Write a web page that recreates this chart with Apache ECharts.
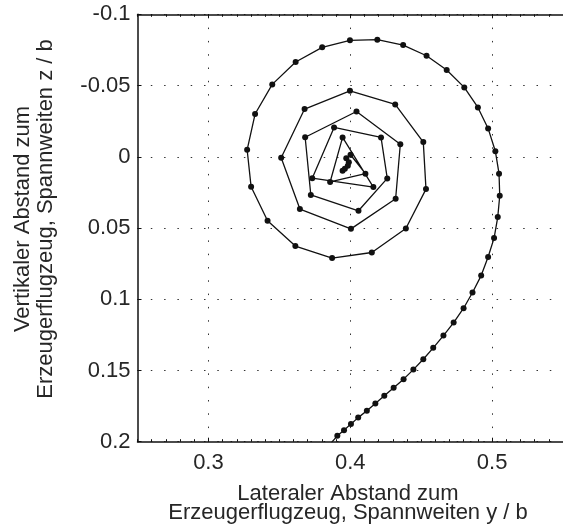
<!DOCTYPE html>
<html>
<head>
<meta charset="utf-8">
<script src="https://cdn.jsdelivr.net/npm/echarts@6/dist/echarts.min.js"></script>
<style>
  html, body { margin: 0; padding: 0; background: #fff; }
  #chart { width: 563px; height: 531px; }
</style>
</head>
<body>
<div id="chart"></div>
<script>
// Wake vortex core track: lateral (y/b) and vertical (z/b) distance to the generating aircraft
const lateral = [0.3867, 0.3909, 0.3956, 0.4005, 0.4056, 0.4117, 0.4177, 0.4240, 0.4306, 0.4376,
  0.4445, 0.4515, 0.4585, 0.4657, 0.4729, 0.4799, 0.4862, 0.4923, 0.4972, 0.5014,
  0.5040, 0.5054, 0.5049, 0.5023, 0.4972, 0.4900, 0.4804, 0.4680, 0.4538, 0.4373,
  0.4191, 0.3998, 0.3802, 0.3615, 0.3450, 0.3329, 0.3273, 0.3301, 0.3417, 0.3613,
  0.3872, 0.4152, 0.4392, 0.4534, 0.4515, 0.4317, 0.3998, 0.3678, 0.3513, 0.3645,
  0.4005, 0.4320, 0.4353, 0.4044, 0.3682, 0.3722, 0.4058, 0.4261, 0.4217, 0.3886,
  0.3732, 0.4163, 0.3946, 0.3858, 0.4107, 0.4002, 0.3972, 0.3990, 0.3983, 0.3962,
  0.3946];
const vertical = [0.2007, 0.1959, 0.1919, 0.1875, 0.1831, 0.1782, 0.1732, 0.1678, 0.1622, 0.1561,
  0.1494, 0.1421, 0.1341, 0.1255, 0.1164, 0.1063, 0.0953, 0.0834, 0.0704, 0.0571,
  0.0423, 0.0274, 0.0119, -0.0039, -0.0199, -0.0346, -0.0487, -0.0609, -0.0709, -0.0784,
  -0.0822, -0.0817, -0.0768, -0.0665, -0.0508, -0.0300, -0.0049, 0.0211, 0.0449, 0.0627,
  0.0711, 0.0672, 0.0504, 0.0227, -0.0103, -0.0367, -0.0463, -0.0335, 0.0007, 0.0367,
  0.0506, 0.0295, -0.0088, -0.0318, -0.0137, 0.0268, 0.0379, 0.0152, -0.0136, -0.0206,
  0.0150, 0.0213, -0.0136, 0.0177, 0.0119, -0.0014, 0.0011, 0.0039, 0.0063, 0.0084,
  0.0098];

const xTickValues = [0.3, 0.4, 0.5];
const xTickLabels = ['0.3', '0.4', '0.5'];
const yTickValues = [-0.1, -0.05, 0, 0.05, 0.1, 0.15, 0.2];
const yTickLabels = ['-0.1', '-0.05', '0', '0.05', '0.1', '0.15', '0.2'];

const xTitle = ['Lateraler Abstand zum', 'Erzeugerflugzeug, Spannweiten y / b'];
const yTitle = ['Vertikaler Abstand zum', 'Erzeugerflugzeug, Spannweiten z / b'];

function lookup(values, labels, v) {
  for (let i = 0; i < values.length; i++) {
    if (Math.abs(values[i] - v) < 1e-6) return labels[i];
  }
  return '';
}

const FONT = '"Liberation Sans", Arial, sans-serif';
const INK = '#111';
const TEXT = '#262626';
const gridDots = { color: '#333', width: 1, type: [1.5, 11.8] };

const points = lateral.map((v, i) => [v, vertical[i]]);

const chart = echarts.init(document.getElementById('chart'), null, { renderer: 'canvas' });

const xRange = { min: 0.25, max: 0.55 };

// minor tick rows along the bottom and top frame edges
function minorTicks(position) {
  return {
    type: 'value', position: position, ...xRange, interval: 0.01,
    axisLine: { show: false, onZero: false },
    axisTick: { show: true, inside: true, length: 2.5, lineStyle: { color: INK, width: 1 } },
    axisLabel: { show: false },
    splitLine: { show: false }
  };
}

chart.setOption({
  animation: false,
  backgroundColor: '#fff',
  grid: { left: 137.5, top: 14.3, width: 429, height: 427.4, containLabel: false },
  xAxis: [
    {
      type: 'value', position: 'bottom', ...xRange, interval: 0.05,
      axisLine: { show: true, onZero: false, lineStyle: { color: INK, width: 1.5 } },
      axisTick: { show: true, inside: true, length: 4, customValues: xTickValues, lineStyle: { color: INK, width: 1 } },
      axisLabel: {
        show: true, customValues: xTickValues, margin: 10,
        fontFamily: FONT, fontSize: 22, color: TEXT,
        formatter: v => lookup(xTickValues, xTickLabels, v)
      },
      splitLine: { show: true, lineStyle: gridDots }
    },
    minorTicks('bottom'),
    {
      type: 'value', position: 'top', ...xRange, interval: 0.05,
      axisLine: { show: true, onZero: false, lineStyle: { color: INK, width: 1.5 } },
      axisTick: { show: true, inside: true, length: 4, customValues: xTickValues, lineStyle: { color: INK, width: 1 } },
      axisLabel: { show: false },
      splitLine: { show: false }
    },
    minorTicks('top')
  ],
  yAxis: [
    {
      type: 'value', inverse: true, min: -0.1, max: 0.2, interval: 0.05,
      axisLine: { show: true, onZero: false, lineStyle: { color: INK, width: 1.5 } },
      axisTick: { show: true, inside: true, length: 4, lineStyle: { color: INK, width: 1 } },
      axisLabel: {
        show: true, margin: 7, padding: [7, 0, 0, 0],
        fontFamily: FONT, fontSize: 22, color: TEXT,
        formatter: v => lookup(yTickValues, yTickLabels, v)
      },
      splitLine: { show: true, lineStyle: gridDots }
    }
  ],
  series: [
    {
      type: 'line',
      xAxisIndex: 0,
      yAxisIndex: 0,
      data: points,
      clip: true,
      symbol: 'circle',
      symbolSize: 6,
      showAllSymbol: true,
      itemStyle: { color: INK },
      lineStyle: { color: INK, width: 1.3 },
      z: 5
    }
  ],
  graphic: [
    { type: 'text', x: 348, y: 494,
      style: { text: xTitle[0], align: 'center', verticalAlign: 'middle', font: '22px ' + FONT, fill: TEXT } },
    { type: 'text', x: 348, y: 513,
      style: { text: xTitle[1], align: 'center', verticalAlign: 'middle', font: '22px ' + FONT, fill: TEXT } },
    { type: 'text', x: 23, y: 219, rotation: Math.PI / 2,
      style: { text: yTitle[0], align: 'center', verticalAlign: 'middle', font: '22px ' + FONT, fill: TEXT } },
    { type: 'text', x: 46, y: 219, rotation: Math.PI / 2,
      style: { text: yTitle[1], align: 'center', verticalAlign: 'middle', font: '22px ' + FONT, fill: TEXT } }
  ]
});
</script>
</body>
</html>
